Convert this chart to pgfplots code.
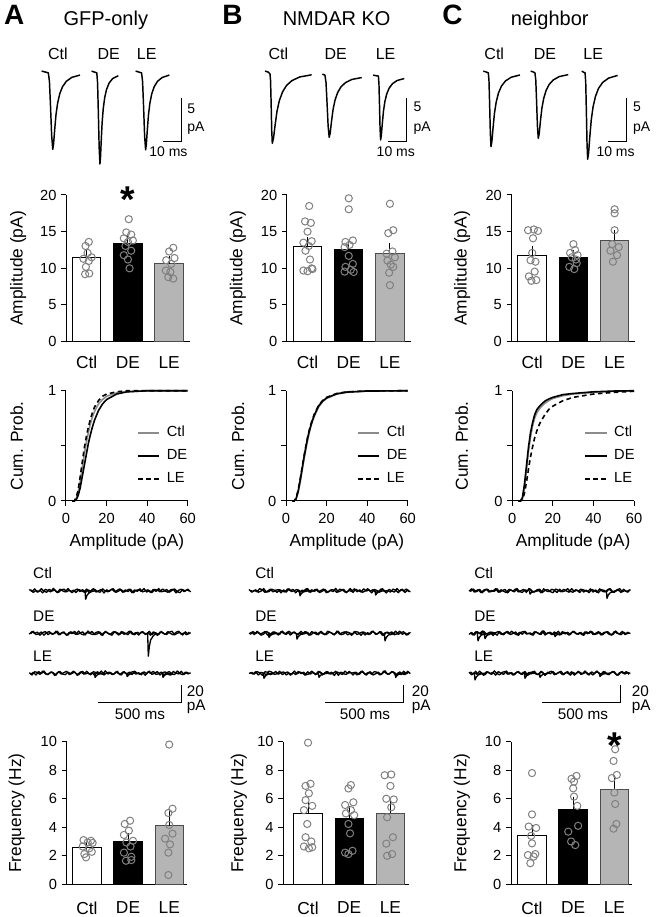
\documentclass[border=0pt]{standalone}
\usepackage{fontspec}
\setmainfont{Liberation Sans}
\usepackage{pgfplots}
\usepackage{pgfplotstable}
\pgfplotsset{compat=1.18}
\definecolor{ptgray}{gray}{0.5}
\definecolor{legray}{gray}{0.71}
\definecolor{cdfgray}{gray}{0.55}

\pgfplotstableread{
t r n1 n2 n3
0 960 0.8 -0.6 0.3
16 944 -0.5 1.1 -1.2
32 928 1.2 -0.2 0.9
48 912 -1.0 0.7 0.5
64 896 0.3 -1.3 -0.8
80 880 -1.4 0.4 1.3
96 864 0.9 1.0 -0.4
112 848 0.1 -0.9 -1.0
128 832 -0.8 0.2 0.7
144 816 1.5 -0.5 0.2
160 800 -0.3 1.3 -1.3
176 784 -1.1 -1.0 1.0
192 768 0.6 0.1 -0.6
208 752 1.0 0.8 0.4
224 736 -0.7 -1.4 1.2
240 720 0.4 0.6 -0.9
256 704 -1.3 -0.3 -0.2
272 688 0.2 1.2 0.8
288 672 1.1 -0.8 -1.4
304 656 -0.6 0.0 0.6
320 640 0.7 0.9 1.1
336 624 -1.2 -1.1 -0.5
352 608 0.5 1.4 0.0
368 592 -0.2 -0.4 -1.1
384 576 1.3 -0.9 0.9
400 560 -0.9 0.5 0.4
416 544 0.0 1.0 -0.7
432 528 0.8 -1.2 1.4
448 512 -1.5 0.3 -1.2
464 496 0.6 0.7 0.2
480 480 -0.4 -0.6 0.6
496 464 1.0 -1.3 -0.9
512 448 -0.8 1.1 -0.3
528 432 0.3 0.2 1.2
544 416 1.2 -0.7 -1.0
560 400 -1.0 0.9 0.7
576 384 0.5 -0.1 0.1
592 368 -0.6 -1.0 -1.3
608 352 0.9 1.3 0.5
624 336 -1.3 -0.5 1.0
640 320 0.2 0.4 -0.6
656 304 0.7 -1.2 0.3
672 288 -0.5 0.8 -1.1
688 272 1.4 0.1 0.9
704 256 -0.9 -0.6 -0.4
720 240 0.1 1.2 1.3
736 224 -1.2 -0.9 -0.8
752 208 0.8 0.5 -0.1
768 192 0.4 -1.4 1.0
784 176 -0.7 0.7 -1.2
800 160 1.1 0.3 0.4
816 144 -0.3 -0.8 0.8
832 128 -1.0 1.0 -0.7
848 112 0.6 -0.2 -1.3
864 96 0.9 -1.1 1.1
880 80 -1.4 0.6 0.0
896 64 0.3 1.3 -0.5
912 48 1.0 -0.7 1.2
928 32 -0.6 0.2 -0.9
944 16 0.5 -1.0 0.6
960 0 -0.2 0.8 -0.3
}\noise

\pgfplotsset{
  /pgf/number format/assume math mode=true,
  base/.style={scale only axis, axis x line*=bottom, axis y line*=left, clip=false,
    tick align=outside, major tick length=3.75pt,
    tick style={black, line width=0.75pt},
    axis line style={black, line width=0.75pt},
    tick label style={font=\fontsize{11}{12}\selectfont},
    label style={font=\fontsize{13}{15}\selectfont}},
  barax/.style={base, ymin=0, xtick={0,1,2}, xticklabels={Ctl,DE,LE}, xtick style={draw=none}},
  ampax/.style={barax, width=92.7pt, height=110pt, xmin=-0.5, xmax=2.5, ymax=20,
    ytick={0,5,10,15,20}, ylabel={Amplitude (pA)},
    x tick label style={font=\fontsize{13}{15}\selectfont, yshift=-3.75pt}},
  freqax/.style={barax, height=106.95pt, ymax=10, ytick={0,2,4,6,8,10}, ylabel={Frequency (Hz)},
    x tick label style={font=\fontsize{13}{15}\selectfont, yshift=-6pt}},
  cdfax/.style={base, width=91.3pt, height=82.7pt, xmin=0, xmax=60, ymin=0, ymax=1,
    xtick={0,20,40,60}, ytick={0,0.5,1}, yticklabels={0,,1},
    x tick label style={yshift=-2pt},
    xlabel={Amplitude (pA)}, ylabel={Cum. Prob.},
    xlabel style={at={(axis description cs:0.5,-0.369)}, anchor=center},
    legend entries={Ctl,DE,LE}, legend cell align=left,
    legend style={draw=none, fill=none, anchor=north west, inner sep=0pt, row sep=2.75pt,
      font=\fontsize{11}{13}\selectfont,
      nodes={inner sep=2pt, text height=8pt, text depth=2.5pt},
      /tikz/every odd column/.append style={column sep=3pt}},
    legend image code/.code={\draw[##1] (0pt,0pt) -- (16pt,0pt);}},
  trax/.style={scale only axis, hide axis, clip=false, width=117.94pt, height=86.29pt,
    xmin=0, xmax=85, ymin=-12, ymax=1},
  noiseax/.style={scale only axis, hide axis, clip=false, width=120pt, height=92.44pt,
    xmin=0, xmax=960, ymin=-135, ymax=10},
  barw/.style={ybar, bar width=0.69, bar shift=0pt, draw=black, line width=0.75pt},
  errb/.style={draw=none, mark=none, forget plot, error bars/.cd, y dir=plus, y explicit,
    error bar style={draw=black, line width=0.75pt, solid},
    error mark=-, error mark options={draw=black, line width=0.75pt, mark size=3pt, solid}},
  pts/.style={only marks, mark=o, mark size=2.7pt, mark options={draw=ptgray, line width=0.75pt, fill=none}},
  trc/.style={black, line width=1.1pt, line join=round},
  nz/.style={black, line width=1.0pt, line join=round},
  sbar/.style={black, line width=0.75pt},
  cCtl/.style={cdfgray, line width=1.2pt},
  cDE/.style={black, line width=1.2pt},
  cLE/.style={black, line width=1.2pt, dash pattern=on 3.5pt off 2.5pt},
}
\tikzset{
  ast/.style={font=\bfseries\fontsize{28}{28}\selectfont, anchor=base, inner sep=0pt},
  tl/.style={font=\fontsize{12}{13}\selectfont, anchor=base, inner sep=0pt},
  sl/.style={font=\fontsize{10.5}{12}\selectfont, anchor=base west, inner sep=0pt},
  sc/.style={font=\fontsize{10.5}{12}\selectfont, anchor=base, inner sep=0pt},
  nl/.style={font=\fontsize{11.5}{12}\selectfont, anchor=base west, inner sep=0pt},
  nc/.style={font=\fontsize{11.5}{12}\selectfont, anchor=base, inner sep=0pt},
}

\begin{document}
\begin{tikzpicture}
\path[use as bounding box] (0pt,0pt) rectangle (492pt,687.75pt);

% panel letters and titles
\node[anchor=base, font=\bfseries\fontsize{21}{21}\selectfont, inner sep=0pt] at (10.65pt,669pt) {A};
\node[anchor=base, font=\bfseries\fontsize{21}{21}\selectfont, inner sep=0pt] at (174.4pt,669pt) {B};
\node[anchor=base, font=\bfseries\fontsize{21}{21}\selectfont, inner sep=0pt] at (339.4pt,669pt) {C};
\node[anchor=base, font=\fontsize{15}{16}\selectfont, inner sep=0pt] at (79.35pt,668.25pt) {GFP-only};
\node[anchor=base, font=\fontsize{15}{16}\selectfont, inner sep=0pt] at (252.5pt,668.25pt) {NMDAR KO};
\node[anchor=base, font=\fontsize{15}{16}\selectfont, inner sep=0pt] at (412.3pt,668.25pt) {neighbor};

%================ ROW 1: average mEPSC traces ================
\begin{axis}[trax, at={(26.25pt,554.1pt)}, anchor=south west]
\addplot[trc] coordinates {(3.6,0.1)(5.5,0)(7.2,-0.1)(7.8,-1.05)(8.4,-3.93)(9.0,-7.16)(9.6,-8.73)(10.04,-8.12)(10.63,-6.55)(11.36,-4.8)(12.25,-3.49)(13.42,-2.44)(14.89,-1.66)(16.95,-1.05)(19.89,-0.61)(24.3,-0.35)};
\addplot[trc] coordinates {(30.6,0.1)(32,0)(33.4,-0.1)(33.83,-1.25)(34.25,-4.68)(34.68,-8.53)(35.1,-10.4)(35.4,-9.67)(35.79,-7.8)(36.29,-5.72)(36.88,-4.16)(37.67,-2.91)(38.66,-1.98)(40.05,-1.25)(42.03,-0.73)(45,-0.42)};
\addplot[trc] coordinates {(54.4,0.1)(56,0)(57.6,-0.1)(58.15,-1.06)(58.7,-3.96)(59.25,-7.22)(59.8,-8.8)(60.18,-8.18)(60.7,-6.6)(61.34,-4.84)(62.1,-3.52)(63.13,-2.46)(64.41,-1.67)(66.2,-1.06)(68.76,-0.62)(72.6,-0.35)};
\addplot[sbar] coordinates {(69.3,-7.88)(79.3,-7.88)(79.3,-2.97)};
\node[tl] at (axis cs:12.4,1.41) {Ctl};
\node[tl] at (axis cs:39.8,1.41) {DE};
\node[tl] at (axis cs:60.4,1.41) {LE};
\node[sl] at (axis cs:82.2,-4.67) {5};
\node[sl] at (axis cs:82.2,-6.74) {pA};
\node[sc] at (axis cs:72.1,-9.57) {10 ms};
\end{axis}

\begin{axis}[trax, at={(191.25pt,554.1pt)}, anchor=south west]
\addplot[trc] coordinates {(5.4,0.1)(7,0)(8.1,-0.2)(8.41,-0.97)(8.73,-3.63)(9.04,-6.61)(9.35,-8.06)(9.99,-7.5)(10.84,-6.05)(11.9,-4.43)(13.18,-3.22)(14.88,-2.26)(17.0,-1.53)(19.98,-0.97)(24.23,-0.56)(30.6,-0.32)};
\addplot[trc] coordinates {(36.4,-0.25)(37.8,-0.35)(38.38,-1.19)(38.95,-3.52)(39.53,-6.12)(40.1,-7.39)(40.63,-6.9)(41.33,-5.63)(42.21,-4.22)(43.27,-3.17)(44.68,-2.32)(46.44,-1.69)(48.9,-1.2)(52.42,-0.84)(57.7,-0.63)};
\addplot[trc] coordinates {(63.9,-0.35)(66.2,-0.45)(66.7,-0.45)(67.0,-1.32)(67.3,-3.7)(67.6,-6.38)(67.9,-7.68)(68.28,-7.17)(68.8,-5.87)(69.44,-4.43)(70.2,-3.34)(71.23,-2.47)(72.51,-1.82)(74.3,-1.32)(76.86,-0.96)(80.7,-0.74)};
\addplot[sbar] coordinates {(72,-7.88)(82,-7.88)(82,-2.97)};
\node[tl] at (axis cs:12.6,1.41) {Ctl};
\node[tl] at (axis cs:43.6,1.41) {DE};
\node[tl] at (axis cs:70.6,1.41) {LE};
\node[sl] at (axis cs:85.6,-4.49) {5};
\node[sl] at (axis cs:85.6,-6.74) {pA};
\node[sc] at (axis cs:76.1,-9.57) {10 ms};
\end{axis}

\begin{axis}[trax, at={(356.25pt,554.1pt)}, anchor=south west]
\addplot[trc] coordinates {(4.5,0.1)(6,0)(7.2,-0.1)(7.56,-1.01)(7.93,-3.8)(8.29,-6.92)(8.65,-8.44)(9.12,-7.85)(9.75,-6.33)(10.53,-4.64)(11.47,-3.38)(12.72,-2.36)(14.28,-1.6)(16.48,-1.01)(19.6,-0.59)(24.3,-0.34)};
\addplot[trc] coordinates {(30.1,0.1)(31.5,0)(32.4,-0.1)(32.85,-0.9)(33.3,-3.37)(33.75,-6.14)(34.2,-7.49)(34.69,-6.97)(35.33,-5.62)(36.14,-4.12)(37.12,-3.0)(38.41,-2.1)(40.03,-1.42)(42.3,-0.9)(45.54,-0.52)(50.4,-0.3)};
\addplot[trc] coordinates {(57.7,0.1)(58.5,0)(59.5,-0.1)(59.85,-1.18)(60.2,-4.44)(60.55,-8.09)(60.9,-9.86)(61.39,-9.17)(62.03,-7.4)(62.84,-5.42)(63.82,-3.94)(65.11,-2.76)(66.73,-1.87)(69.0,-1.18)(72.24,-0.69)(77.1,-0.39)};
\addplot[sbar] coordinates {(72,-7.88)(82,-7.88)(82,-2.97)};
\node[tl] at (axis cs:10.4,1.41) {Ctl};
\node[tl] at (axis cs:37.8,1.41) {DE};
\node[tl] at (axis cs:63.9,1.41) {LE};
\node[sl] at (axis cs:85.3,-4.49) {5};
\node[sl] at (axis cs:85.3,-6.74) {pA};
\node[sc] at (axis cs:76.0,-9.57) {10 ms};
\end{axis}

%================ ROW 2: amplitude bars ================
\begin{axis}[ampax, at={(49.6pt,431.5pt)}, anchor=south west,
  ylabel style={at={(axis description cs:-0.389,0.5)}, anchor=center}]
\addplot[barw, fill=white] coordinates {(0,11.45)};
\addplot[barw, fill=black] coordinates {(1,13.4)};
\addplot[barw, fill=legray, draw=black!70] coordinates {(2,10.6)};
\addplot[errb] coordinates {(0,11.45) +- (0,0.55) (1,13.4) +- (0,0.45) (2,10.6) +- (0,0.55)};
\addplot[pts] coordinates {(0.05,13.6)(-0.03,13.05)(0.02,12.1)(0.12,11.5)(-0.08,11.3)(0.05,11.0)(-0.02,10.2)(-0.04,9.2)(0.06,9.3)
 (1.02,16.7)(0.96,14.9)(1.08,14.6)(0.9,14.1)(1.12,13.8)(1.0,13.6)(0.94,13.05)(1.08,12.4)(0.9,11.8)(1.0,11.2)(1.04,10.0)
 (2.1,12.8)(2.0,12.3)(2.13,11.4)(1.93,11.1)(2.05,10.6)(1.92,9.7)(2.03,9.5)(1.98,8.8)(2.1,8.6)};
\node[ast] at (axis cs:1,17.66) {*};
\end{axis}

\begin{axis}[ampax, at={(215.2pt,431.5pt)}, anchor=south west,
  ylabel style={at={(axis description cs:-0.396,0.5)}, anchor=center}]
\addplot[barw, fill=white] coordinates {(0,12.95)};
\addplot[barw, fill=black] coordinates {(1,12.6)};
\addplot[barw, fill=legray, draw=black!70] coordinates {(2,12.05)};
\addplot[errb] coordinates {(0,12.95) +- (0,0.75) (1,12.6) +- (0,0.7) (2,12.05) +- (0,0.85)};
\addplot[pts] coordinates {(0.04,18.5)(-0.06,16.4)(0.08,16.2)(0,15.0)(0.1,13.7)(-0.1,13.5)(0.03,13.05)(-0.05,12.4)(0.06,11.2)(0.1,10.0)(-0.1,9.7)(0,9.6)(0.12,9.9)
 (1,19.55)(1,18.05)(1.1,13.8)(0.92,13.6)(1.02,13.2)(0.9,12.9)(1,11.7)(1.1,10.6)(0.92,10.2)(1.05,9.8)(0.9,9.55)(1.12,9.5)
 (2,18.8)(2.08,15.2)(1.96,14.8)(2.06,12.3)(1.92,12.0)(2.12,11.5)(1.94,11.05)(2.02,10.5)(2.08,10.2)(1.98,9.4)(2,7.7)};
\end{axis}

\begin{axis}[ampax, at={(383.7pt,431.5pt)}, anchor=south west,
  ylabel style={at={(axis description cs:-0.401,0.5)}, anchor=center}]
\addplot[barw, fill=white] coordinates {(0,11.7)};
\addplot[barw, fill=black] coordinates {(1,11.5)};
\addplot[barw, fill=legray, draw=black!70] coordinates {(2,13.8)};
\addplot[errb] coordinates {(0,11.7) +- (0,0.85) (1,11.5) +- (0,0.4) (2,13.8) +- (0,0.85)};
\addplot[pts] coordinates {(0.04,15.3)(-0.1,15.2)(0.14,15.1)(0.02,14.1)(0,12.1)(-0.04,11.1)(0.08,10.9)(0.06,9.55)(-0.08,8.9)(0.1,8.4)(-0.02,8.3)
 (1,13.3)(1.04,12.5)(0.92,12.1)(1.1,11.8)(0.96,11.5)(1.06,11.2)(1.08,10.7)(0.9,10.2)(1.02,9.9)
 (2,18.05)(2,17.5)(2,15.2)(1.94,13.3)(2.1,12.9)(1.9,12.4)(2.06,11.8)(1.96,10.9)};
\end{axis}

%================ ROW 3: cumulative distributions ================
\begin{axis}[cdfax, at={(49.5pt,312pt)}, anchor=south west,
  ylabel style={at={(axis description cs:-0.405,0.5)}, anchor=center},
  legend style={at={(axis description cs:0.583,0.707)}}]
\addplot[cCtl] coordinates {(3,0)(4,0)(5,0.02)(6,0.08)(7,0.18)(8,0.30)(9,0.42)(10,0.53)(11,0.62)(12,0.70)(13,0.76)(14,0.81)(16,0.88)(18,0.92)(20,0.95)(25,0.98)(30,0.99)(40,1)(60,1)};
\addplot[cDE] coordinates {(3,0)(4,0)(5,0.01)(6,0.05)(7,0.12)(8,0.22)(9,0.32)(10,0.42)(11,0.52)(12,0.60)(13,0.67)(14,0.73)(16,0.82)(18,0.88)(20,0.92)(25,0.97)(30,0.99)(40,1)(60,1)};
\addplot[cLE] coordinates {(3,0)(4,0)(5,0.03)(6,0.10)(7,0.22)(8,0.35)(9,0.48)(10,0.58)(11,0.67)(12,0.74)(13,0.80)(14,0.85)(16,0.91)(18,0.95)(20,0.97)(25,0.99)(30,1)(60,1)};
\end{axis}

\begin{axis}[cdfax, at={(214.5pt,312pt)}, anchor=south west,
  ylabel style={at={(axis description cs:-0.394,0.5)}, anchor=center},
  legend style={at={(axis description cs:0.583,0.707)}}]
\addplot[cCtl] coordinates {(3,0)(4,0)(5,0.02)(6,0.08)(7,0.17)(8,0.28)(9,0.39)(10,0.49)(11,0.58)(12,0.66)(13,0.72)(14,0.77)(16,0.85)(18,0.9)(20,0.93)(25,0.97)(30,0.985)(40,0.997)(60,1)};
\addplot[cDE] coordinates {(3,0)(4,0)(5,0.02)(6,0.09)(7,0.19)(8,0.30)(9,0.41)(10,0.51)(11,0.6)(12,0.67)(13,0.73)(14,0.78)(16,0.86)(18,0.905)(20,0.935)(25,0.972)(30,0.988)(40,0.997)(60,1)};
\addplot[cLE] coordinates {(3,0)(4,0)(5,0.03)(6,0.10)(7,0.2)(8,0.31)(9,0.42)(10,0.52)(11,0.61)(12,0.68)(13,0.74)(14,0.79)(16,0.865)(18,0.91)(20,0.94)(25,0.975)(30,0.99)(40,0.998)(60,1)};
\end{axis}

\begin{axis}[cdfax, at={(384.2pt,312pt)}, anchor=south west,
  ylabel style={at={(axis description cs:-0.416,0.5)}, anchor=center},
  legend style={at={(axis description cs:0.592,0.707)}}]
\addplot[cCtl] coordinates {(3,0)(4,0)(5,0.02)(6,0.12)(7,0.28)(8,0.45)(9,0.58)(10,0.68)(11,0.75)(12,0.795)(13,0.825)(14,0.85)(16,0.885)(18,0.91)(20,0.93)(25,0.955)(30,0.97)(40,0.985)(50,0.995)(60,1)};
\addplot[cDE] coordinates {(3,0)(4,0)(5,0.03)(6,0.15)(7,0.32)(8,0.49)(9,0.62)(10,0.71)(11,0.78)(12,0.825)(13,0.85)(14,0.87)(16,0.905)(18,0.925)(20,0.94)(25,0.965)(30,0.975)(40,0.99)(50,0.997)(60,1)};
\addplot[cLE] coordinates {(3,0)(4,0)(5,0.01)(6,0.07)(7,0.17)(8,0.29)(9,0.40)(10,0.49)(11,0.57)(12,0.63)(13,0.68)(14,0.72)(16,0.78)(18,0.83)(20,0.86)(25,0.91)(30,0.94)(40,0.97)(50,0.985)(60,0.995)};
\end{axis}

%================ ROW 4: example current traces ================
\begin{axis}[noiseax, at={(21.98pt,158.66pt)}, anchor=south west]
\addplot[nz] table[x=t, y expr=1.8*\thisrow{n1}] {\noise};
\addplot[nz] table[x expr=\thisrow{t}+8, y expr=-1.8*\thisrow{n2}] {\noise};
\addplot[nz] table[x=t, y expr=1.8*\thisrow{n2}-50] {\noise};
\addplot[nz] table[x expr=\thisrow{t}+8, y expr=-1.8*\thisrow{n3}-50] {\noise};
\addplot[nz] table[x=t, y expr=1.8*\thisrow{n3}-97] {\noise};
\addplot[nz] table[x expr=\thisrow{t}+8, y expr=-1.8*\thisrow{n1}-97] {\noise};
\addplot[nz] coordinates {(334,0)(338,-10)(346,-5.5)(358,-2.5)(378,-0.8)(398,0)};
\addplot[nz] coordinates {(710,-50)(714,-77)(720,-66)(728,-58)(744,-53)(764,-50)};
\addplot[nz] coordinates {(391,-97)(395,-102)(403,-99.75)(415,-98.25)(435,-97.4)(455,-97)};
\addplot[nz] coordinates {(583,-97)(587,-101)(595,-99.2)(607,-98)(627,-97.32)(647,-97)};
\addplot[nz] coordinates {(798,-97)(802,-102)(810,-99.75)(822,-98.25)(842,-97.4)(862,-97)};
\addplot[sbar] coordinates {(414,-131)(914,-131)(914,-111)};
\node[nl] at (axis cs:22,14.6) {Ctl};
\node[nl] at (axis cs:22,-36.5) {DE};
\node[nl] at (axis cs:22,-83.5) {LE};
\node[nl] at (axis cs:944,-124.7) {20};
\node[nl] at (axis cs:944,-140.4) {pA};
\node[nc] at (axis cs:664,-151.3) {500 ms};
\end{axis}

\begin{axis}[noiseax, at={(186.75pt,158.66pt)}, anchor=south west]
\addplot[nz] table[x=r, y expr=1.8*\thisrow{n2}] {\noise};
\addplot[nz] table[x expr=\thisrow{r}+8, y expr=-1.8*\thisrow{n1}] {\noise};
\addplot[nz] table[x=r, y expr=1.8*\thisrow{n3}-50] {\noise};
\addplot[nz] table[x expr=\thisrow{r}+8, y expr=-1.8*\thisrow{n2}-50] {\noise};
\addplot[nz] table[x=r, y expr=1.8*\thisrow{n1}-97] {\noise};
\addplot[nz] table[x expr=\thisrow{r}+8, y expr=-1.8*\thisrow{n3}-97] {\noise};
\addplot[nz] coordinates {(302,0)(306,-6)(314,-3.3)(326,-1.5)(346,-0.48)(366,0)};
\addplot[nz] coordinates {(756,0)(760,-5)(768,-2.75)(780,-1.25)(800,-0.4)(820,0)};
\addplot[nz] coordinates {(116,-50)(120,-55)(128,-52.75)(140,-51.25)(160,-50.4)(180,-50)};
\addplot[nz] coordinates {(284,-50)(288,-57)(296,-53.85)(308,-51.75)(328,-50.56)(348,-50)};
\addplot[nz] coordinates {(812,-50)(816,-59)(824,-54.95)(836,-52.25)(856,-50.72)(876,-50)};
\addplot[nz] coordinates {(86,-97)(90,-103)(98,-100.3)(110,-98.5)(130,-97.48)(150,-97)};
\addplot[nz] coordinates {(416,-97)(420,-102)(428,-99.75)(440,-98.25)(460,-97.4)(480,-97)};
\addplot[nz] coordinates {(876,-97)(880,-102)(888,-99.75)(900,-98.25)(920,-97.4)(940,-97)};
\addplot[sbar] coordinates {(456,-131)(924,-131)(924,-111)};
\node[nl] at (axis cs:36,14.6) {Ctl};
\node[nl] at (axis cs:36,-36.5) {DE};
\node[nl] at (axis cs:36,-83.5) {LE};
\node[nl] at (axis cs:976,-124.7) {20};
\node[nl] at (axis cs:976,-140.4) {pA};
\node[nc] at (axis cs:696,-151.3) {500 ms};
\end{axis}

\begin{axis}[noiseax, at={(351.75pt,158.66pt)}, anchor=south west]
\addplot[nz] table[x=t, y expr=-1.8*\thisrow{n3}] {\noise};
\addplot[nz] table[x expr=\thisrow{t}+8, y expr=1.8*\thisrow{n2}] {\noise};
\addplot[nz] table[x=t, y expr=-1.8*\thisrow{n1}-50] {\noise};
\addplot[nz] table[x expr=\thisrow{t}+8, y expr=1.8*\thisrow{n3}-50] {\noise};
\addplot[nz] table[x=t, y expr=-1.8*\thisrow{n2}-97] {\noise};
\addplot[nz] table[x expr=\thisrow{t}+8, y expr=1.8*\thisrow{n1}-97] {\noise};
\addplot[nz] coordinates {(362,0)(366,-4)(374,-2.2)(386,-1)(406,-0.32)(426,0)};
\addplot[nz] coordinates {(824,0)(828,-9)(836,-4.95)(848,-2.25)(868,-0.72)(888,0)};
\addplot[nz] coordinates {(50,-50)(54,-59)(62,-54.95)(74,-52.25)(92,-51)(96,-56.5)(104,-53.5)(116,-51.5)(136,-50.5)(156,-50)};
\addplot[nz] coordinates {(512,-50)(516,-54)(524,-52.2)(536,-51)(556,-50.32)(576,-50)};
\addplot[nz] coordinates {(32,-97)(36,-105)(44,-101.4)(56,-99)(76,-97.64)(96,-97)};
\addplot[nz] coordinates {(332,-97)(336,-103)(344,-100.3)(356,-98.5)(376,-97.48)(396,-97)};
\addplot[nz] coordinates {(422,-97)(426,-102)(434,-99.75)(446,-98.25)(466,-97.4)(486,-97)};
\addplot[nz] coordinates {(782,-97)(786,-101)(794,-99.2)(806,-98)(826,-97.32)(846,-97)};
\addplot[sbar] coordinates {(440,-131)(906,-131)(906,-111)};
\node[nl] at (axis cs:30,14.6) {Ctl};
\node[nl] at (axis cs:30,-36.5) {DE};
\node[nl] at (axis cs:30,-83.5) {LE};
\node[nl] at (axis cs:976,-124.7) {20};
\node[nl] at (axis cs:976,-140.4) {pA};
\node[nc] at (axis cs:684,-151.3) {500 ms};
\end{axis}

%================ ROW 5: frequency bars ================
\begin{axis}[freqax, width=90.2pt, xmin=-0.49, xmax=2.43, at={(50.0pt,24.53pt)}, anchor=south west,
  ylabel style={at={(axis description cs:-0.416,0.5)}, anchor=center}]
\addplot[barw, fill=white] coordinates {(0,2.57)};
\addplot[barw, fill=black] coordinates {(1,2.99)};
\addplot[barw, fill=legray, draw=black!70] coordinates {(2,4.11)};
\addplot[errb] coordinates {(0,2.57) +- (0,0.15) (1,2.99) +- (0,0.3) (2,4.11) +- (0,0.87)};
\addplot[pts] coordinates {(-0.08,3.1)(0.1,3.05)(0.02,2.93)(-0.1,2.65)(0.06,2.52)(0.12,2.28)(-0.06,2.12)(-0.02,1.89)(0.14,2.9)
 (1.05,4.46)(0.92,4.23)(1.02,3.76)(0.9,3.46)(1.12,3.05)(0.96,2.93)(1.06,2.65)(0.9,2.22)(1.08,1.93)(0.95,1.65)(1.08,1.7)
 (2,9.8)(2.08,5.3)(1.98,5.0)(2,4.16)(2.08,3.55)(1.9,3.2)(2.02,2.8)(1.98,2.22)(1.98,0.65)};
\end{axis}

\begin{axis}[freqax, width=93.9pt, xmin=-0.6, xmax=2.44, at={(212.5pt,24.53pt)}, anchor=south west,
  ylabel style={at={(axis description cs:-0.354,0.5)}, anchor=center}]
\addplot[barw, fill=white] coordinates {(0,4.98)};
\addplot[barw, fill=black] coordinates {(1,4.58)};
\addplot[barw, fill=legray, draw=black!70] coordinates {(2,4.98)};
\addplot[errb] coordinates {(0,4.98) +- (0,0.58) (1,4.58) +- (0,0.6) (2,4.98) +- (0,0.58)};
\addplot[pts] coordinates {(0,9.93)(0.06,7.05)(-0.06,6.9)(0.02,6.38)(-0.06,5.9)(0.1,5.5)(-0.1,5.2)(-0.02,4.23)(-0.06,3.3)(0.08,3.0)(-0.1,2.65)(0.02,2.52)(0.1,2.6)
 (1.04,6.96)(0.98,6.72)(1.1,5.75)(0.9,5.56)(1.04,5.2)(0.92,4.97)(1.12,4.85)(0.98,4.23)(1.02,3.57)(1.08,2.35)(0.9,2.22)(0.98,2.12)
 (2.02,7.7)(1.86,7.65)(2,6.9)(1.9,6.0)(2.08,5.95)(2.02,5.4)(1.92,4.7)(2.06,3.3)(1.9,2.85)(2.04,2.12)(1.92,2.0)};
\end{axis}

\begin{axis}[freqax, width=90.8pt, xmin=-0.51, xmax=2.43, at={(383.25pt,24.53pt)}, anchor=south west,
  ylabel style={at={(axis description cs:-0.405,0.5)}, anchor=center}]
\addplot[barw, fill=white] coordinates {(0,3.39)};
\addplot[barw, fill=black] coordinates {(1,5.26)};
\addplot[barw, fill=legray, draw=black!70] coordinates {(2,6.68)};
\addplot[errb] coordinates {(0,3.39) +- (0,0.5) (1,5.26) +- (0,0.6) (2,6.68) +- (0,0.6)};
\addplot[pts] coordinates {(0,7.8)(0,4.9)(-0.08,4.05)(0.1,3.95)(-0.02,3.4)(0,2.87)(0.08,2.12)(-0.1,2.05)(0.04,1.94)(-0.04,1.48)
 (1.08,7.6)(0.96,7.4)(1.02,7.2)(1,6.73)(1.02,6.15)(1.1,5.5)(1.12,4.1)(0.88,3.69)(0.95,3.0)(1.05,2.75)
 (2.02,9.47)(1.98,8.65)(2.06,7.67)(1.94,7.45)(2,6.43)(2.02,5.63)(2.05,4.23)(1.98,3.9)};
\node[ast] at (axis cs:2,8.84) {*};
\end{axis}

\end{tikzpicture}
\end{document}
